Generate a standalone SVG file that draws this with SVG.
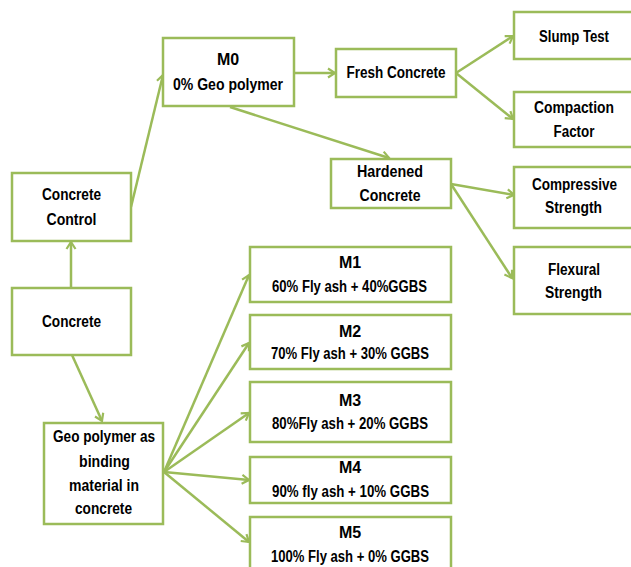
<svg xmlns="http://www.w3.org/2000/svg" width="631" height="567" viewBox="0 0 631 567">
<style>
.box{fill:#fff;stroke:#9bbb59;stroke-width:2.5}
.t{font-family:"Liberation Sans",Arial,sans-serif;font-weight:bold;font-size:16px;fill:#000;text-anchor:middle}
.c{stroke:#9bbb59;stroke-width:2.5;fill:none;marker-end:url(#ah)}
</style>
<defs>
<marker id="ah" markerUnits="userSpaceOnUse" viewBox="-10 -6 12 12" refX="0" refY="0" markerWidth="12" markerHeight="12" orient="auto">
<path d="M-7,-4.5 L0,0 L-7,4.5" fill="none" stroke="#9bbb59" stroke-width="2.2"/>
</marker>
</defs>
<rect width="631" height="567" fill="#fff"/>
<g id="connectors">
<line class="c" x1="131" y1="207" x2="163" y2="75"/>
<line class="c" x1="294" y1="73" x2="335" y2="73"/>
<line class="c" x1="230" y1="107" x2="389" y2="158"/>
<line class="c" x1="456" y1="73" x2="513" y2="36"/>
<line class="c" x1="456" y1="73" x2="513" y2="119"/>
<line class="c" x1="451" y1="184" x2="514" y2="195"/>
<line class="c" x1="451" y1="184" x2="512" y2="278"/>
<line class="c" x1="71" y1="288" x2="71" y2="242"/>
<line class="c" x1="72" y1="355" x2="102" y2="421"/>
<line class="c" x1="164" y1="472" x2="249" y2="275"/>
<line class="c" x1="164" y1="472" x2="249" y2="343"/>
<line class="c" x1="164" y1="472" x2="249" y2="413"/>
<line class="c" x1="164" y1="472" x2="249" y2="480"/>
<line class="c" x1="164" y1="472" x2="249" y2="542"/>
</g>
<g id="m0"><rect class="box" x="163" y="38" width="131" height="68"/>
<text class="t" x="228" y="65">M0</text><text class="t" x="228" y="90" textLength="110" lengthAdjust="spacingAndGlyphs">0% Geo polymer</text></g>
<g id="concrete-control"><rect class="box" x="12" y="173" width="119" height="68"/>
<text class="t" x="71.5" y="200" textLength="59" lengthAdjust="spacingAndGlyphs">Concrete</text><text class="t" x="71.5" y="225" textLength="50" lengthAdjust="spacingAndGlyphs">Control</text></g>
<g id="fresh"><rect class="box" x="336" y="49" width="120" height="48"/>
<text class="t" x="396" y="78" textLength="99" lengthAdjust="spacingAndGlyphs">Fresh Concrete</text></g>
<g id="slump"><rect class="box" x="514" y="12" width="130" height="47"/>
<text class="t" x="574" y="42" textLength="70" lengthAdjust="spacingAndGlyphs">Slump Test</text></g>
<g id="compaction"><rect class="box" x="514" y="92" width="130" height="55"/>
<text class="t" x="574" y="113" textLength="80" lengthAdjust="spacingAndGlyphs">Compaction</text><text class="t" x="574" y="137" textLength="41" lengthAdjust="spacingAndGlyphs">Factor</text></g>
<g id="hardened"><rect class="box" x="331" y="159" width="120" height="49"/>
<text class="t" x="390" y="177" textLength="66" lengthAdjust="spacingAndGlyphs">Hardened</text><text class="t" x="390" y="201" textLength="61" lengthAdjust="spacingAndGlyphs">Concrete</text></g>
<g id="compressive"><rect class="box" x="514" y="167" width="130" height="61"/>
<text class="t" x="574.5" y="190" textLength="85" lengthAdjust="spacingAndGlyphs">Compressive</text><text class="t" x="573.5" y="213" textLength="57" lengthAdjust="spacingAndGlyphs">Strength</text></g>
<g id="flexural"><rect class="box" x="514" y="247" width="130" height="67"/>
<text class="t" x="574" y="275" textLength="52" lengthAdjust="spacingAndGlyphs">Flexural</text><text class="t" x="573.5" y="298" textLength="57" lengthAdjust="spacingAndGlyphs">Strength</text></g>
<g id="concrete"><rect class="box" x="12" y="288" width="119" height="67"/>
<text class="t" x="71.5" y="327" textLength="59" lengthAdjust="spacingAndGlyphs">Concrete</text></g>
<g id="geopolymer"><rect class="box" x="44" y="423" width="119" height="101"/>
<text class="t" x="104" y="442" textLength="102" lengthAdjust="spacingAndGlyphs">Geo polymer as</text>
<text class="t" x="104.5" y="467" textLength="51" lengthAdjust="spacingAndGlyphs">binding</text>
<text class="t" x="104" y="491" textLength="70" lengthAdjust="spacingAndGlyphs">material in</text>
<text class="t" x="103.5" y="514" textLength="57" lengthAdjust="spacingAndGlyphs">concrete</text></g>
<g id="m1"><rect class="box" x="250" y="247" width="201" height="55"/>
<text class="t" x="350" y="268">M1</text><text class="t" x="349.5" y="292" textLength="155" lengthAdjust="spacingAndGlyphs">60% Fly ash + 40%GGBS</text></g>
<g id="m2"><rect class="box" x="250" y="315" width="201" height="54"/>
<text class="t" x="350" y="337">M2</text><text class="t" x="350" y="359" textLength="158" lengthAdjust="spacingAndGlyphs">70% Fly ash + 30% GGBS</text></g>
<g id="m3"><rect class="box" x="250" y="382" width="201" height="60"/>
<text class="t" x="350" y="406">M3</text><text class="t" x="350" y="429" textLength="156" lengthAdjust="spacingAndGlyphs">80%Fly ash + 20% GGBS</text></g>
<g id="m4"><rect class="box" x="250" y="457" width="201" height="46"/>
<text class="t" x="350" y="473">M4</text><text class="t" x="350.5" y="497" textLength="157" lengthAdjust="spacingAndGlyphs">90% fly ash + 10% GGBS</text></g>
<g id="m5"><rect class="box" x="250" y="517" width="201" height="60"/>
<text class="t" x="350" y="538">M5</text><text class="t" x="350" y="562" textLength="158" lengthAdjust="spacingAndGlyphs">100% Fly ash + 0% GGBS</text></g>
</svg>
